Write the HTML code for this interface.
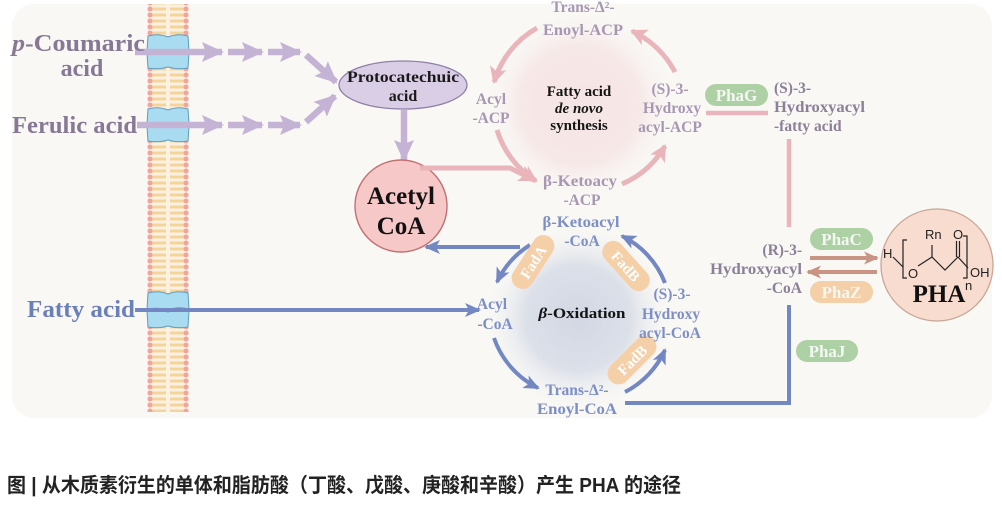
<!DOCTYPE html>
<html><head><meta charset="utf-8"><style>
html,body{margin:0;padding:0;background:#fff;}
svg{display:block;}
</style></head><body>
<svg width="1002" height="509" viewBox="0 0 1002 509" xmlns="http://www.w3.org/2000/svg">
<defs>
<pattern id="mem" x="147" y="0" width="42" height="6" patternUnits="userSpaceOnUse">
<rect x="0" y="0" width="42" height="6" fill="#fbf1e2"/>
<rect x="5" y="1.5" width="14" height="3" fill="#f5d49c"/>
<rect x="23" y="1.5" width="14" height="3" fill="#f5d49c"/>
<circle cx="3" cy="3" r="2.5" fill="#f1a39d"/>
<circle cx="39" cy="3" r="2.5" fill="#f1a39d"/>
</pattern>
<radialGradient id="gp" cx="580" cy="105" r="98" gradientUnits="userSpaceOnUse">
<stop offset="0" stop-color="#f5e4e4"/>
<stop offset="0.6" stop-color="#f6e8e7"/>
<stop offset="1" stop-color="#f9f8f5" stop-opacity="0"/>
</radialGradient>
<radialGradient id="gb" cx="578" cy="318" r="96" gradientUnits="userSpaceOnUse">
<stop offset="0" stop-color="#d2d7e3"/>
<stop offset="0.55" stop-color="#dce0e9"/>
<stop offset="1" stop-color="#f9f8f5" stop-opacity="0"/>
</radialGradient>
<marker id="mu" viewBox="0 0 22 22" refX="20" refY="11" markerWidth="22" markerHeight="22" orient="auto" markerUnits="userSpaceOnUse"><path d="M0,1 L22,11 L0,21 L4,11 Z" fill="#c5b3d6"/></marker>
<marker id="mp" viewBox="0 0 16 16" refX="14" refY="8" markerWidth="17" markerHeight="17" orient="auto" markerUnits="userSpaceOnUse"><path d="M0,0 L16,8 L0,16 L4,8 Z" fill="#e9b5ba"/></marker>
<marker id="mb" viewBox="0 0 16 16" refX="14" refY="8" markerWidth="16" markerHeight="16" orient="auto" markerUnits="userSpaceOnUse"><path d="M0,1 L16,8 L0,15 L4,8 Z" fill="#7387c3"/></marker>
<marker id="mr" viewBox="0 0 16 14" refX="14" refY="7" markerWidth="15" markerHeight="13" orient="auto" markerUnits="userSpaceOnUse"><path d="M0,0 L16,7 L0,14 L4,7 Z" fill="#c99484"/></marker>
</defs>

<!-- panel -->
<rect x="12" y="4" width="980" height="414" rx="22" fill="#f9f8f5"/>

<!-- glows -->
<circle cx="580" cy="105" r="98" fill="url(#gp)"/>
<circle cx="578" cy="318" r="96" fill="url(#gb)"/>

<!-- membrane -->
<rect x="147" y="4" width="42" height="408" fill="url(#mem)"/>

<!-- transporters -->
<g fill="#a9dcf0" stroke="#5f9cc0" stroke-width="1">
<g transform="translate(168,52)">
<path d="M-20,-16 Q-10,-19 0,-15 Q10,-19 20,-16 L21,-1 Q10,-4 0,0 Q-10,-3 -21,-1 Z"/>
<path d="M-21,1 Q-10,-1 0,2 Q10,-1 21,1 L20,16 Q10,18 0,15 Q-10,18 -20,16 Z"/>
</g>
<g transform="translate(168,125)">
<path d="M-20,-16 Q-10,-19 0,-15 Q10,-19 20,-16 L21,-1 Q10,-4 0,0 Q-10,-3 -21,-1 Z"/>
<path d="M-21,1 Q-10,-1 0,2 Q10,-1 21,1 L20,16 Q10,18 0,15 Q-10,18 -20,16 Z"/>
</g>
<g transform="translate(168,310)">
<path d="M-20,-17 Q-10,-20 0,-16 Q10,-20 20,-17 L21,-1 Q10,-4 0,0 Q-10,-3 -21,-1 Z"/>
<path d="M-21,1 Q-10,-1 0,2 Q10,-1 21,1 L20,17 Q10,19 0,16 Q-10,19 -20,17 Z"/>
</g>
</g>

<!-- purple arrows -->
<g stroke="#c5b3d6" stroke-width="6.5" fill="none" marker-end="url(#mu)">
<path d="M135 52 L222 52"/>
<path d="M228 52 L262 52"/>
<path d="M268 52 L300 52"/>
<path d="M306 55 L336 82"/>
<path d="M137 125 L222 125"/>
<path d="M228 125 L262 125"/>
<path d="M268 125 L300 125"/>
<path d="M306 122 L335 96"/>
<path d="M404 110 L404 160"/>
</g>

<!-- Protocatechuic acid -->
<ellipse cx="403" cy="85" rx="64" ry="24" fill="#dacee7" stroke="#8f80a6" stroke-width="1.3"/>
<g font-family="'Liberation Serif',serif" font-weight="bold" fill="#1a1a1a" text-anchor="middle">
<text x="403" y="82" font-size="16" textLength="112" lengthAdjust="spacingAndGlyphs">Protocatechuic</text>
<text x="403" y="101" font-size="16">acid</text>
</g>

<!-- Acetyl CoA -->
<circle cx="401" cy="206" r="46" fill="#f6c8c8" stroke="#c27070" stroke-width="1.4"/>
<g font-family="'Liberation Serif',serif" font-weight="bold" fill="#111" text-anchor="middle">
<text x="401" y="204" font-size="25">Acetyl</text>
<text x="401" y="234" font-size="25">CoA</text>
</g>

<!-- pink arrows -->
<g stroke="#e9b5ba" stroke-width="5" fill="none" marker-end="url(#mp)">
<path d="M420 168 L510 168 L534 180"/>
<path d="M537 28 A92 92 0 0 0 494 82"/>
<path d="M497 130 A92 92 0 0 0 536 181"/>
<path d="M622 184 A92 92 0 0 0 665 146"/>
<path d="M675 72 A95 95 0 0 0 632 31"/>
</g>
<g stroke="#e9b5ba" stroke-width="4.5" fill="none">
<path d="M706 113 L768 113"/>
<path d="M789 139 L789 227"/>
</g>

<!-- blue arrows -->
<g stroke="#7387c3" stroke-width="4" fill="none">
<path d="M625 403 L789 403 L789 305"/>
</g>
<g stroke="#7387c3" stroke-width="4" fill="none" marker-end="url(#mb)">
<path d="M135 310 L479 310"/>
<path d="M520 247 L426 247"/>
<path d="M530 245 A88 88 0 0 0 497 282"/>
<path d="M494 338 A88 88 0 0 0 538 388"/>
<path d="M625 392 A88 88 0 0 0 665 350"/>
<path d="M665 283 A88 88 0 0 0 622 236"/>
</g>

<!-- brown arrows -->
<g stroke="#c99484" stroke-width="4" fill="none" marker-end="url(#mr)">
<path d="M810 258 L877 258"/>
<path d="M877 272 L808 272"/>
</g>

<!-- Fad pills -->
<g font-family="'Liberation Serif',serif" font-weight="bold" font-size="15" fill="#fff" text-anchor="middle">
<g transform="translate(533,262) rotate(-57)"><rect x="-30" y="-11" width="60" height="22" rx="11" fill="#f4cfa7"/><text x="0" y="5.5">FadA</text></g>
<g transform="translate(626,266) rotate(48)"><rect x="-30" y="-11" width="60" height="22" rx="11" fill="#f4cfa7"/><text x="0" y="5.5">FadB</text></g>
<g transform="translate(632,360) rotate(-45)"><rect x="-30" y="-11" width="60" height="22" rx="11" fill="#f4cfa7"/><text x="0" y="5.5">FadB</text></g>
</g>

<!-- Pha pills -->
<g font-family="'Liberation Serif',serif" font-weight="bold" font-size="17" fill="#f4f8f2" text-anchor="middle">
<rect x="705" y="84" width="63" height="22" rx="11" fill="#aed0a5"/><text x="736.5" y="101">PhaG</text>
<rect x="810" y="228" width="63" height="22" rx="11" fill="#aed0a5"/><text x="841.5" y="245">PhaC</text>
<rect x="810" y="281" width="63" height="22" rx="11" fill="#f4cfa7"/><text x="841.5" y="298">PhaZ</text>
<rect x="796" y="340" width="62" height="22" rx="11" fill="#aed0a5"/><text x="827" y="357">PhaJ</text>
</g>

<!-- PHA circle -->
<circle cx="937" cy="265" r="56" fill="#f8dccf" stroke="#c9a696" stroke-width="1.3"/>
<g stroke="#222" stroke-width="1.2" fill="none">
<path d="M893 257 L903 267"/>
<path d="M907 240 L903 240 L903 278 L907 278"/>
<path d="M918 266 L932 257 L945 270 L958 257 L968 268"/>
<path d="M932 257 L932 245"/>
<path d="M956.5 257 L956.5 241 M959.5 257 L959.5 241"/>
<path d="M963 236 L967 236 L967 278 L963 278"/>
</g>
<g font-family="'Liberation Sans',sans-serif" font-size="13" fill="#222">
<text x="883" y="258">H</text>
<text x="908" y="278">O</text>
<text x="925" y="239">Rn</text>
<text x="953" y="239">O</text>
<text x="970" y="277">OH</text>
<text x="965" y="290">n</text>
</g>
<text x="939" y="302" font-family="'Liberation Serif',serif" font-weight="bold" font-size="25" fill="#111" text-anchor="middle">PHA</text>

<!-- left labels -->
<g font-family="'Liberation Serif',serif" font-weight="bold" font-size="24" fill="#877896">
<text x="12" y="51" textLength="133" lengthAdjust="spacingAndGlyphs"><tspan font-style="italic">p</tspan>-Coumaric</text>
<text x="82" y="76" text-anchor="middle">acid</text>
<text x="12" y="133" textLength="125" lengthAdjust="spacingAndGlyphs">Ferulic acid</text>
</g>
<text x="27" y="317" font-family="'Liberation Serif',serif" font-weight="bold" font-size="24" fill="#6b7fbb" textLength="108" lengthAdjust="spacingAndGlyphs">Fatty acid</text>

<!-- de novo labels -->
<g font-family="'Liberation Serif',serif" font-weight="bold" font-size="15.5" fill="#a897b2" text-anchor="middle">
<text x="583" y="12">Trans-Δ²-</text>
<text x="583" y="35" textLength="80" lengthAdjust="spacingAndGlyphs">Enoyl-ACP</text>
<text x="491" y="104">Acyl</text>
<text x="491" y="123">-ACP</text>
<text x="670" y="94">(S)-3-</text>
<text x="672" y="113">Hydroxy</text>
<text x="670" y="132">acyl-ACP</text>
<text x="580" y="186" textLength="74" lengthAdjust="spacingAndGlyphs">β-Ketoacy</text>
<text x="582" y="205">-ACP</text>
</g>
<g font-family="'Liberation Serif',serif" font-weight="bold" font-size="15" fill="#141414" text-anchor="middle">
<text x="579" y="96">Fatty acid</text>
<text x="579" y="113" font-style="italic">de novo</text>
<text x="579" y="130">synthesis</text>
<text x="582" y="318" textLength="87" lengthAdjust="spacingAndGlyphs"><tspan font-style="italic">β</tspan>-Oxidation</text>
</g>

<!-- right labels -->
<g font-family="'Liberation Serif',serif" font-weight="bold" font-size="15.5" fill="#8c7f98">
<text x="774" y="93">(S)-3-</text>
<text x="774" y="112" textLength="91" lengthAdjust="spacingAndGlyphs">Hydroxyacyl</text>
<text x="774" y="131">-fatty acid</text>
<text x="802" y="255" text-anchor="end">(R)-3-</text>
<text x="802" y="274" text-anchor="end" textLength="92" lengthAdjust="spacingAndGlyphs">Hydroxyacyl</text>
<text x="802" y="293" text-anchor="end">-CoA</text>
</g>

<!-- blue labels -->
<g font-family="'Liberation Serif',serif" font-weight="bold" font-size="15.5" fill="#7d8fc6" text-anchor="middle">
<text x="581" y="227" textLength="77" lengthAdjust="spacingAndGlyphs">β-Ketoacyl</text>
<text x="582" y="246">-CoA</text>
<text x="492" y="309">Acyl</text>
<text x="495" y="329">-CoA</text>
<text x="672" y="299">(S)-3-</text>
<text x="671" y="319">Hydroxy</text>
<text x="670" y="338">acyl-CoA</text>
<text x="577" y="395">Trans-Δ²-</text>
<text x="577" y="414" textLength="80" lengthAdjust="spacingAndGlyphs">Enoyl-CoA</text>
</g>

<!-- caption -->
<text x="7" y="492" font-family="'Liberation Sans','Noto Sans CJK SC',sans-serif" font-weight="bold" font-size="20" fill="#222" textLength="674" lengthAdjust="spacingAndGlyphs">图 | 从木质素衍生的单体和脂肪酸（丁酸、戊酸、庚酸和辛酸）产生 PHA 的途径</text>
</svg>
</body></html>
